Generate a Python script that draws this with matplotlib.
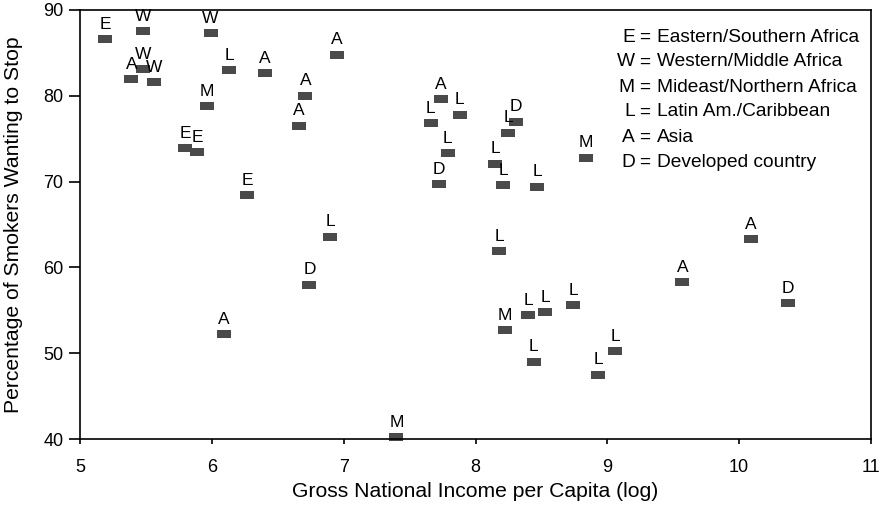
import numpy as np
import matplotlib
matplotlib.use("Agg")
import matplotlib.pyplot as plt

plt.rcParams['font.family'] = ['Liberation Sans', 'DejaVu Sans']

# region code, log GNI per capita, % of smokers wanting to stop
regions = ['E', 'W', 'W', 'W', 'A', 'W', 'L', 'A', 'A', 'M', 'A', 'A', 'E', 'E', 'E',
           'A', 'L', 'L', 'L', 'D', 'D', 'L', 'L', 'L', 'L', 'M',
           'A', 'A', 'D', 'L', 'L', 'L',
           'L', 'D', 'A', 'M', 'L', 'M', 'L', 'L', 'L']
gni_log = [5.19, 5.48, 5.99, 5.48, 5.39, 5.56, 6.13, 6.40, 6.95, 5.96, 6.71, 6.66, 5.80, 5.89, 6.27,
           7.74, 7.66, 7.88, 7.79, 7.72, 8.31, 8.25, 8.15, 8.21, 8.47, 8.84,
           10.09, 9.57, 10.37, 8.74, 9.06, 8.93,
           6.90, 6.74, 6.09, 7.40, 8.18, 8.22, 8.40, 8.53, 8.44]
pct_stop = [86.6, 87.5, 87.3, 83.1, 81.9, 81.6, 83.0, 82.6, 84.8, 78.8, 80.0, 76.5, 73.9, 73.4, 68.4,
            79.6, 76.8, 77.8, 73.3, 69.7, 77.0, 75.7, 72.1, 69.6, 69.4, 72.8,
            63.3, 58.3, 55.8, 55.6, 50.2, 47.5,
            63.6, 58.0, 52.2, 40.2, 61.9, 52.7, 54.4, 54.8, 49.0]

legend_keys = ['E', 'W', 'M', 'L', 'A', 'D']
legend_names = ['Eastern/Southern Africa', 'Western/Middle Africa', 'Mideast/Northern Africa',
                'Latin Am./Caribbean', 'Asia', 'Developed country']

fig = plt.figure(figsize=(8.8, 5.07), dpi=100)
ax = fig.add_axes([80 / 880, 1 - 439 / 507, 791 / 880, 429 / 507])

rect = [(-1, -0.62), (1, -0.62), (1, 0.62), (-1, 0.62), (-1, -0.62)]
ax.plot(gni_log, pct_stop, linestyle='none', marker=rect, markersize=10,
        color='#4a4a4a', markeredgewidth=0, clip_on=False)

for code, x, y in zip(regions, gni_log, pct_stop):
    ax.annotate(code, (x, y), xytext=(0, 7.5), textcoords='offset points',
                ha='center', va='baseline', fontsize=12.5, annotation_clip=False)

ax.set_xlim(5, 11)
ax.set_ylim(40, 90)
ax.set_xticks(range(5, 12))
ax.set_yticks(range(40, 91, 10))
ax.tick_params(labelsize=13, width=1.2)
ax.tick_params(axis='x', length=3.6, pad=11)
ax.tick_params(axis='y', length=8, pad=4)
for s in ax.spines.values():
    s.set_linewidth(1.2)

ax.set_xlabel('Gross National Income per Capita (log)', fontsize=15.2)
ax.set_ylabel('Percentage of Smokers Wanting to Stop', fontsize=15.2)
ax.xaxis.set_label_coords(0.5, -0.100)
ax.yaxis.set_label_coords(-0.072, 0.5)

# key letters, "=" and names as separate texts
for i, (k, name) in enumerate(zip(legend_keys, legend_names)):
    ypix = 37 + 25 * i
    yf = 1 - ypix / 507
    fig.text(635 / 880, yf, k, ha='right', va='center', fontsize=13.8)
    fig.text(650 / 880, yf, '=', ha='right', va='center', fontsize=13.8)
    fig.text(657 / 880, yf, name, ha='left', va='center', fontsize=13.8)

fig.savefig('out.png', dpi=100)
